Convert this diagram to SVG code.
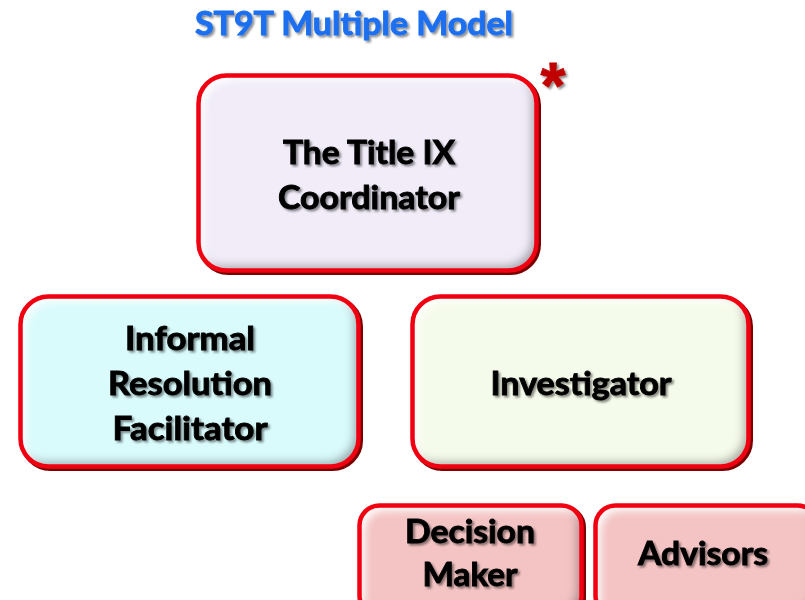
<svg xmlns="http://www.w3.org/2000/svg" width="805" height="600" viewBox="0 0 805 600">
  <defs>
    <!-- soft drop shadow behind lettering -->
    <filter id="textShadow" x="-10%" y="-30%" width="120%" height="160%">
      <feGaussianBlur in="SourceAlpha" stdDeviation="1.3" result="blur"/>
      <feOffset in="blur" dx="2" dy="2" result="off"/>
      <feFlood flood-color="#000" flood-opacity="0.45"/>
      <feComposite in2="off" operator="in" result="shadow"/>
      <feMerge>
        <feMergeNode in="shadow"/>
        <feMergeNode in="SourceGraphic"/>
      </feMerge>
    </filter>
    <!-- inner bevel: light top-left, grey bottom-right -->
    <filter id="bevel" x="-5%" y="-5%" width="110%" height="110%">
      <feGaussianBlur in="SourceAlpha" stdDeviation="4" result="b"/>
      <feOffset in="b" dx="-5" dy="-5" result="o1"/>
      <feComposite in="SourceAlpha" in2="o1" operator="out" result="sh"/>
      <feFlood flood-color="#45454f" flood-opacity="0.6"/>
      <feComposite in2="sh" operator="in" result="shadow"/>
      <feOffset in="b" dx="5" dy="5" result="o2"/>
      <feComposite in="SourceAlpha" in2="o2" operator="out" result="hl"/>
      <feFlood flood-color="#ffffff" flood-opacity="0.95"/>
      <feComposite in2="hl" operator="in" result="highlight"/>
      <feMerge>
        <feMergeNode in="SourceGraphic"/>
        <feMergeNode in="shadow"/>
        <feMergeNode in="highlight"/>
      </feMerge>
    </filter>
    <style>
      .rim { fill: none; stroke: #7a0000; stroke-width: 5; }
      .face { filter: url(#bevel); }
      .edge { fill: none; stroke: #f00010; stroke-width: 4.5; }
      .label { font-family: Lato, "Liberation Sans", sans-serif; font-weight: bold; font-size: 32px; fill: #000; stroke: #000; stroke-width: 0.9; text-anchor: middle; filter: url(#textShadow); }
      .title { font-family: Lato, "Liberation Sans", sans-serif; font-weight: bold; font-size: 32px; fill: #1b6ff0; stroke: #1b6ff0; stroke-width: 0.9; text-anchor: middle; filter: url(#textShadow); }
      .lav { fill: #f1ecf8; }
      .cyan { fill: #d9fbfc; }
      .lime { fill: #f5fbea; }
      .pink { fill: #f4c3c3; }
    </style>
  </defs>

  <rect width="805" height="600" fill="#ffffff"/>

  <text class="title" x="354" y="35" textLength="318" lengthAdjust="spacingAndGlyphs">ST9T Multiple Model</text>

  <text x="553" y="108" font-family="'Liberation Sans', sans-serif" font-weight="bold" font-size="64" fill="#c00000" stroke="#c00000" stroke-width="0.8" text-anchor="middle" filter="url(#textShadow)">*</text>

  <g id="connectors"></g>

  <g id="coordinator">
    <rect class="rim" x="200.5" y="77.5" width="338" height="195" rx="28"/>
    <rect class="face lav" x="198.5" y="75.5" width="338" height="195" rx="28"/>
    <rect class="edge" x="198.5" y="75.5" width="338" height="195" rx="28"/>
    <text class="label" x="369" y="164" textLength="172" lengthAdjust="spacingAndGlyphs">The Title IX</text>
    <text class="label" x="369" y="209" textLength="182" lengthAdjust="spacingAndGlyphs">Coordinator</text>
  </g>

  <g id="facilitator">
    <rect class="rim" x="22.5" y="298.5" width="338" height="170" rx="28"/>
    <rect class="face cyan" x="20.5" y="296.5" width="338" height="170" rx="28"/>
    <rect class="edge" x="20.5" y="296.5" width="338" height="170" rx="28"/>
    <text class="label" x="190" y="350" textLength="130" lengthAdjust="spacingAndGlyphs">Informal</text>
    <text class="label" x="190" y="395" textLength="164" lengthAdjust="spacingAndGlyphs">Resolution</text>
    <text class="label" x="190" y="440" textLength="155" lengthAdjust="spacingAndGlyphs">Facilitator</text>
  </g>

  <g id="investigator">
    <rect class="rim" x="414.5" y="298.5" width="336" height="170" rx="28"/>
    <rect class="face lime" x="412.5" y="296.5" width="336" height="170" rx="28"/>
    <rect class="edge" x="412.5" y="296.5" width="336" height="170" rx="28"/>
    <text class="label" x="581" y="395" textLength="181" lengthAdjust="spacingAndGlyphs">Investigator</text>
  </g>

  <g id="decision-maker">
    <rect class="rim" x="361.5" y="507.5" width="222" height="110" rx="20"/>
    <rect class="face pink" x="359.5" y="505.5" width="222" height="110" rx="20"/>
    <rect class="edge" x="359.5" y="505.5" width="222" height="110" rx="20"/>
    <text class="label" x="470" y="543" textLength="130" lengthAdjust="spacingAndGlyphs">Decision</text>
    <text class="label" x="470" y="586" textLength="95" lengthAdjust="spacingAndGlyphs">Maker</text>
  </g>

  <g id="advisors">
    <rect class="rim" x="597.5" y="507.5" width="222" height="110" rx="20"/>
    <rect class="face pink" x="595.5" y="505.5" width="222" height="110" rx="20"/>
    <rect class="edge" x="595.5" y="505.5" width="222" height="110" rx="20"/>
    <text class="label" x="703" y="565" textLength="130" lengthAdjust="spacingAndGlyphs">Advisors</text>
  </g>
</svg>
